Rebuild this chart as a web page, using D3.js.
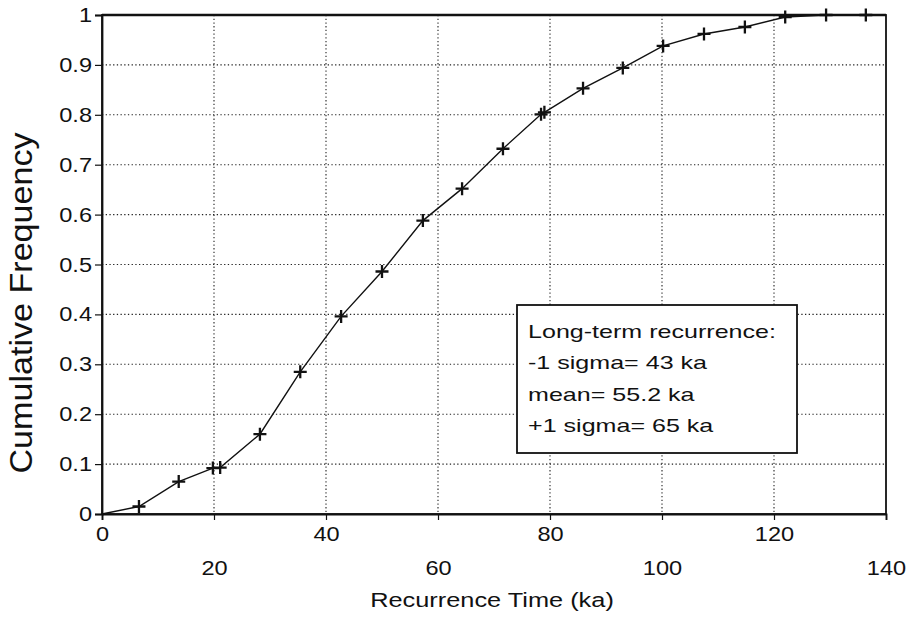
<!DOCTYPE html>
<html>
<head>
<meta charset="utf-8">
<script src="https://cdn.jsdelivr.net/npm/d3@7"></script>
<style>
  html, body { margin: 0; padding: 0; background: #fff; }
  svg { display: block; }
  text { font-family: "Liberation Sans", Arial, Helvetica, sans-serif; fill: #111; }
</style>
</head>
<body>
<svg id="chart" width="906" height="618"></svg>
<script>
// Recurrence intervals (ka) and their cumulative frequency
const recurrenceKa = [6.6, 13.7, 19.8, 21.1, 28.2, 35.4, 42.7, 50.0, 57.3, 64.3, 71.6,
                      78.4, 79.0, 85.9, 93.0, 100.2, 107.5, 114.8, 122.0, 129.3, 136.4];
const cumFreq      = [0.015, 0.065, 0.092, 0.093, 0.160, 0.285, 0.396, 0.486, 0.588, 0.652, 0.732,
                      0.801, 0.805, 0.853, 0.894, 0.938, 0.962, 0.976, 0.996, 1.0, 1.0];

const xTickValues = [0, 20, 40, 60, 80, 100, 120, 140];
const yTickValues = [0, 0.1, 0.2, 0.3, 0.4, 0.5, 0.6, 0.7, 0.8, 0.9, 1];
const yTickLabels = ["0", "0.1", "0.2", "0.3", "0.4", "0.5", "0.6", "0.7", "0.8", "0.9", "1"];

const legendLines = ["Long-term recurrence:", "-1 sigma= 43 ka", "mean= 55.2 ka", "+1 sigma= 65 ka"];
const xTitle = "Recurrence Time (ka)";
const yTitle = "Cumulative Frequency";

const svg = d3.select("#chart");
const plot = { left: 102, right: 886, top: 15, bottom: 514 };

const x = d3.scaleLinear().domain([0, 140]).range([plot.left, plot.right]);
const y = d3.scaleLinear().domain([0, 1]).range([plot.bottom, plot.top]);

// Dotted grid
const grid = svg.append("g").attr("stroke", "#222").attr("stroke-width", 1.1)
  .attr("stroke-dasharray", "1.3,2.4").attr("fill", "none");
grid.selectAll("line.v").data(xTickValues.slice(1, -1)).join("line")
  .attr("x1", d => x(d)).attr("x2", d => x(d)).attr("y1", plot.top).attr("y2", plot.bottom);
grid.selectAll("line.h").data(yTickValues.slice(1, -1)).join("line")
  .attr("x1", plot.left).attr("x2", plot.right).attr("y1", d => y(d)).attr("y2", d => y(d));

// Legend box (white, sits over the grid)
const box = svg.append("g");
box.append("rect").attr("x", 517).attr("y", 305).attr("width", 280).attr("height", 148)
  .attr("fill", "#fff").attr("stroke", "#111").attr("stroke-width", 1.8);
const legendSx = 1.32;
legendLines.forEach((t, i) => {
  box.append("text")
    .attr("transform", `translate(528,${338 + i * 31.3}) scale(${legendSx},1)`)
    .attr("font-size", 19).text(t);
});

// Frame
svg.append("rect").attr("x", plot.left).attr("y", plot.top)
  .attr("width", plot.right - plot.left).attr("height", plot.bottom - plot.top)
  .attr("fill", "none").attr("stroke", "#111").attr("stroke-width", 1.8);
svg.append("line").attr("x1", plot.left).attr("x2", plot.right)
  .attr("y1", plot.top).attr("y2", plot.top).attr("stroke", "#111").attr("stroke-width", 2.6);

// Axes
const tickSx = 1.15;
const xAxis = svg.append("g").attr("transform", `translate(0,${plot.bottom})`)
  .call(d3.axisBottom(x).tickValues(xTickValues).tickSize(6).tickFormat(d3.format("d")));
xAxis.select(".domain").attr("stroke", "#111").attr("stroke-width", 1.8);
xAxis.selectAll(".tick line").attr("stroke", "#111").attr("stroke-width", 1.2);
xAxis.selectAll(".tick text")
  .attr("font-size", 20.5).attr("fill", "#111")
  .attr("dy", null)
  .attr("y", (d, i) => i % 2 === 0 ? 27 : 61)
  .attr("transform", `scale(${tickSx},1)`);

const yAxis = svg.append("g").attr("transform", `translate(${plot.left},0)`)
  .call(d3.axisLeft(y).tickValues(yTickValues).tickSize(7).tickPadding(3)
    .tickFormat((d, i) => yTickLabels[i]));
yAxis.select(".domain").attr("stroke", "#111").attr("stroke-width", 1.8);
yAxis.selectAll(".tick line").attr("stroke", "#111").attr("stroke-width", 1.2);
yAxis.selectAll(".tick text")
  .attr("font-size", 20.5).attr("fill", "#111")
  .attr("x", -10 / tickSx)
  .attr("transform", `scale(${tickSx},1)`);
svg.selectAll(".tick text").attr("font-family", null)
  .style("font-family", "'Liberation Sans', Arial, sans-serif");

// Axis titles
svg.append("text").attr("transform", `translate(492,607) scale(1.3,1)`)
  .attr("text-anchor", "middle").attr("font-size", 19.5).text(xTitle);
svg.append("text").attr("transform", `translate(32,303) rotate(-90) scale(1.1,1)`)
  .attr("text-anchor", "middle").attr("font-size", 31).text(yTitle);

// Cumulative curve, from the origin through every observation
const pts = [[0, 0]].concat(recurrenceKa.map((v, i) => [v, cumFreq[i]]));
svg.append("path").datum(pts)
  .attr("fill", "none").attr("stroke", "#111").attr("stroke-width", 1.4)
  .attr("d", d3.line().x(d => x(d[0])).y(d => y(d[1])));

// Plus markers
const m = 6.5;
svg.append("g").attr("stroke", "#111").attr("stroke-width", 2.3)
  .selectAll("path").data(recurrenceKa.map((v, i) => [v, cumFreq[i]])).join("path")
  .attr("d", d => `M${x(d[0]) - m},${y(d[1])}H${x(d[0]) + m}M${x(d[0])},${y(d[1]) - m}V${y(d[1]) + m}`);
</script>
</body>
</html>
